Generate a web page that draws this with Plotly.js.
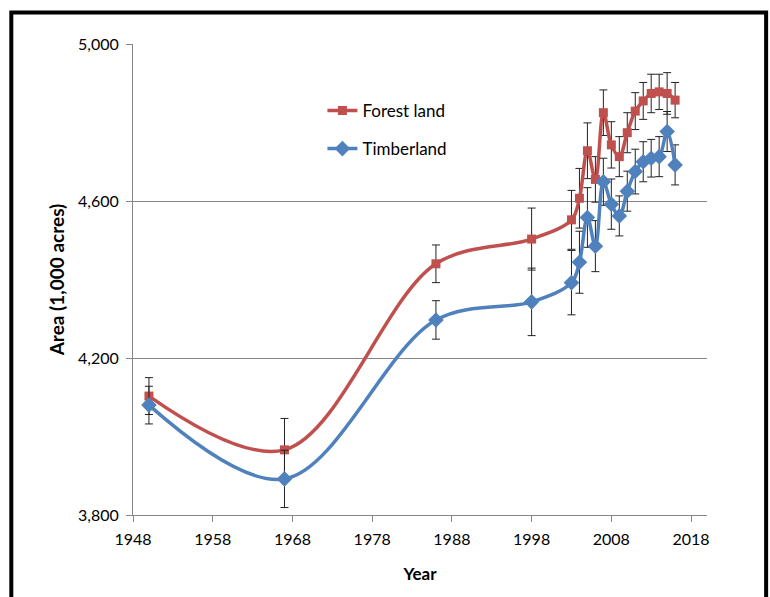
<!DOCTYPE html>
<html>
<head>
<meta charset="utf-8">
<script src="https://cdn.plot.ly/plotly-3.0.1.min.js"></script>
<style>html,body{margin:0;padding:0;background:#fff;}#chart{width:770px;height:597px;}</style>
</head>
<body>
<div id="chart"></div>
<script>
const years = [1950, 1967, 1986, 1998, 2003, 2004, 2005, 2006, 2007, 2008, 2009, 2010, 2011, 2012, 2013, 2014, 2015, 2016];
const forestLand = [4103, 3966, 4440, 4503, 4552, 4607, 4728, 4655, 4825, 4743, 4713, 4774, 4829, 4855, 4874, 4878, 4874, 4857];
const forestErr  = [47, 80, 48, 79, 75, 76, 71, 58, 58, 59, 51, 51, 47, 47, 49, 45, 53, 45];
const timberland = [4080, 3892, 4297, 4343, 4392, 4444, 4558, 4485, 4649, 4592, 4562, 4625, 4675, 4700, 4709, 4713, 4777, 4692];
const timberErr  = [48, 73, 49, 86, 82, 79, 76, 65, 60, 64, 51, 51, 57, 51, 48, 51, 51, 51];
const seriesNames = ['Forest land', 'Timberland'];

const font = 'Lato, "Liberation Sans", sans-serif';

const traces = [
  {
    x: years, y: forestLand, name: seriesNames[0], type: 'scatter', mode: 'lines+markers',
    line: {color: '#C0504D', width: 3.5, shape: 'spline', smoothing: 1},
    marker: {symbol: 'square', size: 9, color: '#C0504D'},
    error_y: {type: 'data', array: forestErr, visible: true, color: '#222', thickness: 1, width: 4},
    legend: 'legend'
  },
  {
    x: years, y: timberland, name: seriesNames[1], type: 'scatter', mode: 'lines+markers',
    line: {color: '#4F81BD', width: 3.5, shape: 'spline', smoothing: 1},
    marker: {symbol: 'diamond', size: 12, color: '#4F81BD'},
    error_y: {type: 'data', array: timberErr, visible: true, color: '#222', thickness: 1, width: 4},
    legend: 'legend2'
  }
];

const layout = {
  width: 770, height: 597,
  margin: {l: 133, r: 63, t: 44, b: 82},
  paper_bgcolor: '#fff', plot_bgcolor: '#fff',
  font: {family: font, size: 16, color: '#000'},
  showlegend: true,
  legend: {x: 0.330, y: 0.858, xanchor: 'left', yanchor: 'middle', bgcolor: 'rgba(0,0,0,0)', font: {family: font, size: 17, color: '#000'}},
  legend2: {x: 0.330, y: 0.777, xanchor: 'left', yanchor: 'middle', bgcolor: 'rgba(0,0,0,0)', font: {family: font, size: 17, color: '#000'}},
  xaxis: {
    range: [1948, 2020], tick0: 1948, dtick: 10, showgrid: false, zeroline: false,
    showline: true, linecolor: '#868686', linewidth: 1,
    ticks: 'outside', ticklen: 6, tickcolor: '#868686', ticklabelstandoff: 4,
    tickfont: {family: font, size: 16, color: '#000'},
    title: {text: '<b>Year</b>', font: {family: font, size: 17, color: '#000'}, standoff: 20},
    automargin: true
  },
  yaxis: {
    range: [3800, 5000], tick0: 3800, dtick: 400, tickformat: ',',
    showgrid: true, gridcolor: '#868686', gridwidth: 1, zeroline: false,
    showline: true, linecolor: '#868686', linewidth: 1,
    ticks: 'outside', ticklen: 6, tickcolor: '#868686', ticklabelstandoff: 4,
    tickfont: {family: font, size: 16, color: '#000'},
    title: {text: '<b>Area (1,000 acres)</b>', font: {family: font, size: 19, color: '#000'}, standoff: 8},
    automargin: true
  },
  shapes: [
    {type: 'rect', xref: 'paper', yref: 'paper', x0: -0.212, x1: 1.103, y0: -0.2, y1: 1.067,
     line: {color: '#000', width: 4}, fillcolor: 'rgba(0,0,0,0)', layer: 'above'}
  ]
};

Plotly.newPlot('chart', traces, layout, {displayModeBar: false, staticPlot: true});
</script>
</body>
</html>
